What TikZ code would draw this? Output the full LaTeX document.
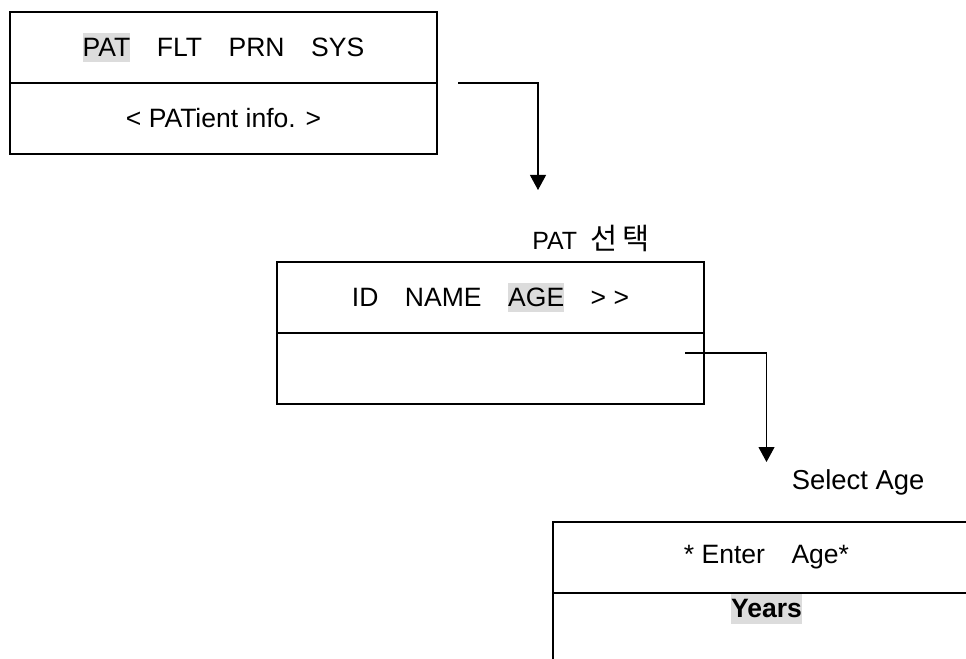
\documentclass[tikz,border=0pt]{standalone}
\usepackage{fontspec}
\setmainfont{Liberation Sans}
\newfontfamily\hangulfont{Noto Sans CJK KR}[Scale=1.18]
\usetikzlibrary{arrows.meta, positioning, calc}
\definecolor{hlgray}{HTML}{DCDCDC}
\newcommand{\boxfont}{\fontsize{15.1}{18}\selectfont}
\newcommand{\hlword}[1]{{\setlength{\fboxsep}{0pt}\colorbox{hlgray}{\rule[-0.21em]{0pt}{1.1em}#1}}}
\tikzset{
  menurow/.style={
    rectangle, draw, line width=0.95pt,
    minimum width=8.54cm, minimum height=1.42cm,
    inner sep=0pt, outer sep=0pt,
    text centered, font=\boxfont
  },
  steparrow/.style={-{Triangle[length=0.3cm, width=0.32cm]}, line width=0.6pt},
  caption/.style={anchor=base west, inner sep=0pt, font=\fontsize{#1}{18}\selectfont},
}
\begin{document}
\begin{tikzpicture}
  \useasboundingbox (0,0) rectangle (19.32,13.16);
  \clip (0,0) rectangle (19.32,13.16);

  % main menu
  \node[menurow] (mainmenu) at (4.47, 12.21){\hlword{PAT}\quad FLT\quad PRN\quad SYS};
  \node[menurow, below=0pt of mainmenu] (patinfo){< PATient info. >};

  % PAT submenu
  \node[caption=14.2] (patsel) at (10.64, 8.16){PAT\hspace{0.55em}{\hangulfont 선\hspace{0.15em}택}};
  \node[menurow] (patmenu) at (9.81, 7.21){ID\quad NAME\quad \hlword{AGE}\quad > >};
  \node[menurow, below=0pt of patmenu] (patval){};

  % age entry
  \node[caption=15.6] (selage) at (15.83, 3.37){Select Age};
  \node[menurow] (ageentry) at (15.33, 2.01){* Enter\quad Age*};
  \node[menurow, below=0pt of ageentry] (ageval){};
  \node[below=0.02cm of ageval.north, inner sep=0pt, font=\boxfont] (years){\hlword{\textbf{Years}}};

  \coordinate (from1) at ($(patinfo.north east)+(0.42,0)$);
  \coordinate (to1) at (10.76, 9.36);
  \coordinate (from2) at (13.70, 6.10);
  \coordinate (to2) at (15.33, 3.92);

  \draw[steparrow] (from1) -| (to1);
  \draw[steparrow] (from2) -| (to2);
\end{tikzpicture}
\end{document}
